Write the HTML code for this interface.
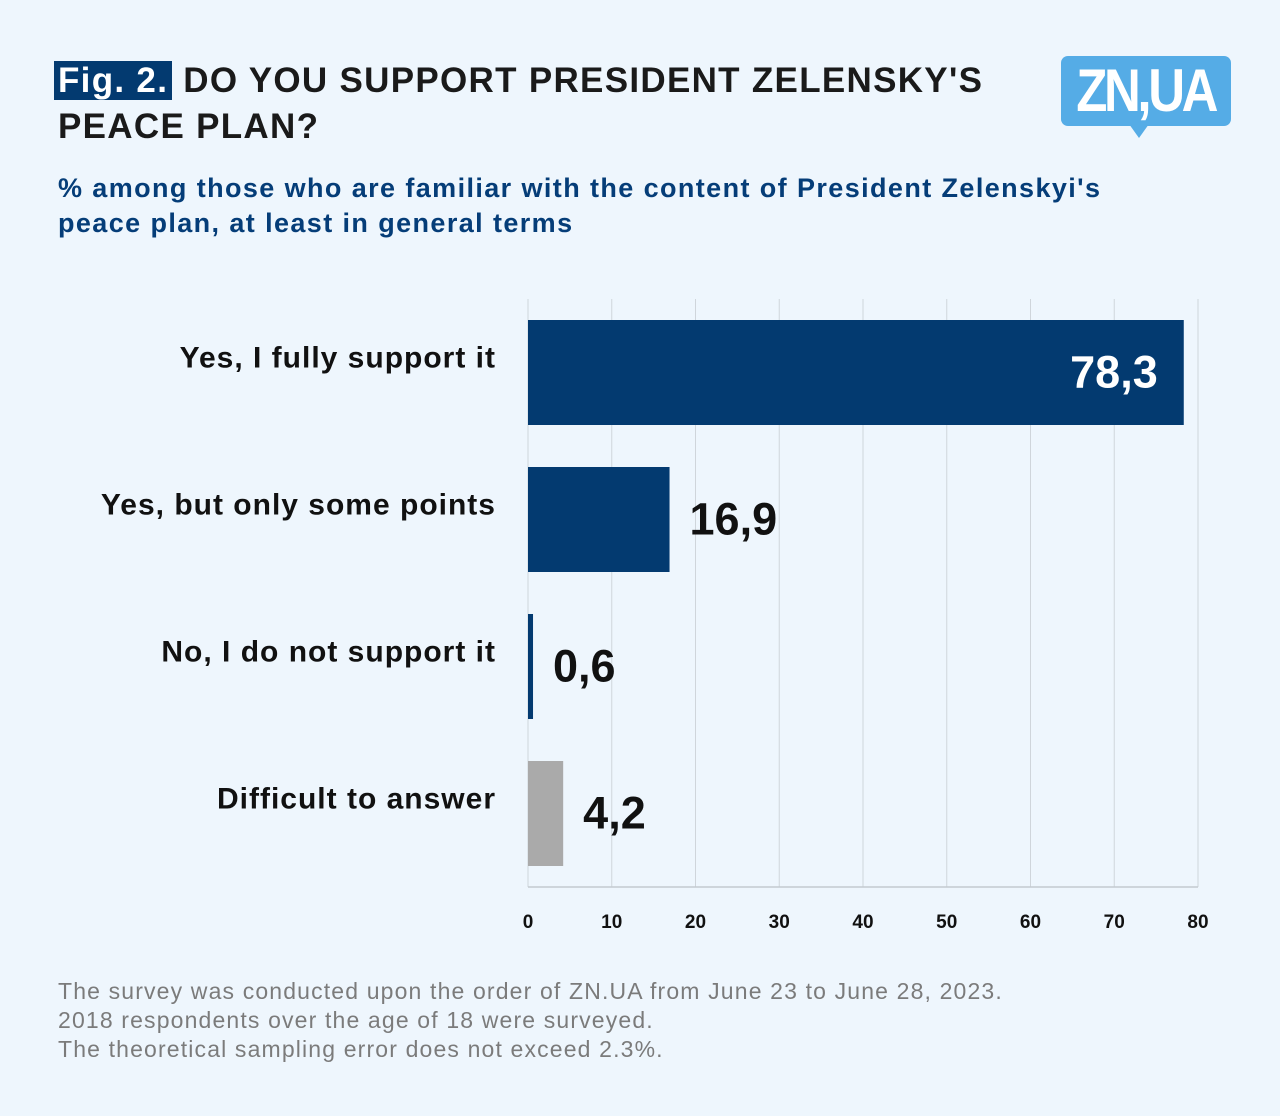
<!DOCTYPE html>
<html><head><meta charset="utf-8"><style>
body{margin:0;width:1280px;height:1116px;background:#eef6fd;font-family:"Liberation Sans",sans-serif;position:relative;overflow:hidden}
.t{position:absolute;left:58px;top:58px;font-size:35px;font-weight:bold;color:#1a1a1a;line-height:46px;letter-spacing:1.3px}
.fig{background:#033a70;color:#fff;padding:0 4px;margin-left:-4px}
.sub{position:absolute;left:58px;top:171px;font-size:27px;font-weight:bold;color:#053d78;line-height:35px;letter-spacing:1.4px}
.foot{position:absolute;left:58px;top:977px;font-size:23px;color:#7b7b7b;line-height:29px;letter-spacing:1.15px}
.logo{position:absolute;left:1061px;top:56px;width:170px;height:70px;background:#55ace6;border-radius:7px;color:#fff;font-weight:bold;font-size:60px;text-align:center;line-height:70px;letter-spacing:-4px}
.logo span{display:inline-block;transform:scaleX(0.85)}
.logo:after{content:"";position:absolute;left:68px;top:68px;border-left:10px solid transparent;border-right:10px solid transparent;border-top:14px solid #55ace6}
</style></head><body>
<div class="t"><span class="fig">Fig. 2.</span> DO YOU SUPPORT PRESIDENT ZELENSKY'S<br>PEACE PLAN?</div>
<div class="logo"><span>ZN,UA</span></div>
<div class="sub">% among those who are familiar with the content of President Zelenskyi's<br>peace plan, at least in general terms</div>
<svg id="c" width="1280" height="1116" style="position:absolute;left:0;top:0"></svg>
<div class="foot">The survey was conducted upon the order of ZN.UA from June 23 to June 28, 2023.<br>2018 respondents over the age of 18 were surveyed.<br>The theoretical sampling error does not exceed 2.3%.</div>
<script>
const categories=["Yes, I fully support it","Yes, but only some points","No, I do not support it","Difficult to answer"];
const values=[78.3,16.9,0.6,4.2];
const labels=["78,3","16,9","0,6","4,2"];
const colors=["#033a70","#033a70","#033a70","#aaaaaa"];
const ticks=[0,10,20,30,40,50,60,70,80];
const svg=document.getElementById('c');const NS='http://www.w3.org/2000/svg';
const x0=528,x1=1198,plotTop=299,plotBot=887,maxV=80;
const X=v=>x0+(v/maxV)*(x1-x0);
const band=(plotBot-plotTop)/categories.length, bh=105;
function el(t,a){const e=document.createElementNS(NS,t);for(const k in a)e.setAttribute(k,a[k]);svg.appendChild(e);return e;}
ticks.forEach(t=>{
 const g=el('line',{x1:X(t),x2:X(t),y1:plotTop,y2:plotBot,stroke:'#cfd5db','stroke-width':1});
 
 
 const tx=el('text',{x:X(t),y:928,'text-anchor':'middle','font-size':19,'font-weight':'bold',fill:'#111','font-family':'Liberation Sans'});
 tx.textContent=t;
 
 
});
const ax=el('line',{x1:x0,x2:x1,y1:plotBot,y2:plotBot,stroke:'#c4cad0','stroke-width':1.5});


categories.forEach((c,i)=>{
 const cy=plotTop+band*i+band/2;
 const r=el('rect',{x:x0,y:cy-bh/2,width:Math.max(X(values[i])-x0,4),height:bh,fill:colors[i]});
 
 
 const l=el('text',{x:496,y:cy-5,'text-anchor':'end','font-size':30,'font-weight':'bold',fill:'#111','font-family':'Liberation Sans','letter-spacing':1});
 l.textContent=c;
 
 
 const inside=values[i]>50;
 const v=el('text',{x:inside?X(values[i])-26:Math.max(X(values[i]),x0+4)+20,y:cy+15,'text-anchor':inside?'end':'start','font-size':45,'font-weight':'bold',fill:inside?'#fff':'#111','font-family':'Liberation Sans'});
 v.textContent=labels[i];
 
 
});
</script>
</body></html>
